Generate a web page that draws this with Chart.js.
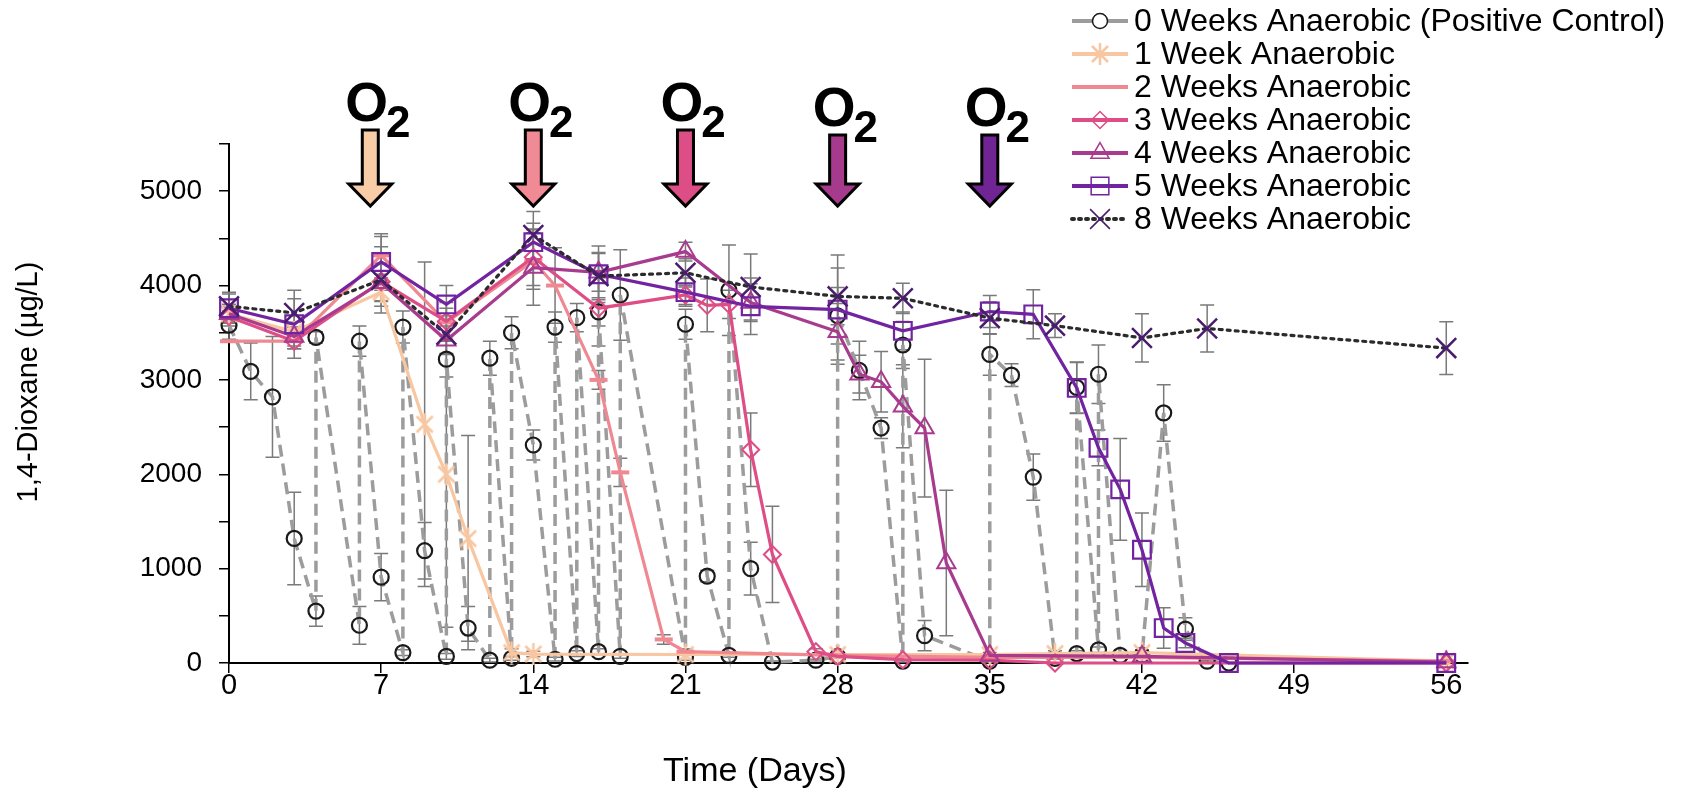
<!DOCTYPE html>
<html>
<head>
    <title>1,4-Dioxane</title>
    <script src="https://cdn.jsdelivr.net/npm/chart.js"></script>
    <style>
        body { margin: 0; background: #fff; }
        canvas { display: block; }
    </style>
</head>
<body>
    <canvas id="chart" width="1686" height="797"></canvas>
    <script>
        // data (days, µg/L, error)
        const days0 = [0,1,2,3,4,4,6,6,7,8,8,9,10,10,11,12,12,13,13,14,15,15,16,16,17,17,18,18,21,21,22,23,23,24,25,27,28,28,29,30,31,31,32,35,35,36,37,38,39,39,40,40,41,42,43,44,45,46];
        const conc0 = [3580,3090,2820,1320,550,3450,400,3410,910,110,3560,1190,70,3220,370,30,3230,50,3500,2310,40,3560,100,3660,120,3720,70,3900,60,3590,920,80,3950,1000,10,30,70,3680,3100,2490,20,3370,290,20,3270,3050,1970,50,100,2920,140,3060,80,80,2650,360,20,0];
        const err0 = [150,300,640,490,160,60,200,160,250,30,170,300,30,190,230,20,180,20,170,160,20,160,30,150,30,150,20,480,30,160,60,20,480,280,10,10,20,300,310,110,10,250,160,10,220,120,245,10,30,270,30,310,20,20,300,120,10,0];

        const days1 = [0,3,7,9,10,11,13,14,21,28,35,38,42,56];
        const conc1 = [3700,3510,3930,2530,2000,1320,110,95,90,90,90,100,110,20];
        const err1 = [100,100,150,1720,1620,1090,40,30,0,0,0,30,30,0];

        const days2 = [0,3,7,10,14,15,17,18,20,21,28,35,42,56];
        const conc2 = [3410,3410,4320,3610,4260,4000,3000,2020,250,120,80,60,60,20];
        const err2 = [0,80,200,150,300,400,100,150,50,30,0,0,0,0];

        const days3 = [0,3,7,10,14,17,21,22,23,24,25,27,28,31,35,38,56];
        const conc3 = [3670,3410,4040,3620,4300,3760,3900,3790,3800,2260,1150,120,70,35,30,0,0];
        const err3 = [100,80,200,200,300,400,100,280,150,390,510,30,20,0,0,0,0];

        const days4 = [0,3,7,10,14,17,21,24,28,29,30,31,32,33,35,42,56];
        const conc4 = [3700,3460,4030,3420,4190,4140,4360,3820,3510,3060,2980,2720,2490,1060,80,70,10];
        const err4 = [100,100,200,150,400,200,100,200,300,200,320,440,730,770,30,0,0];

        const days5 = [0,3,7,10,14,17,21,24,28,31,35,37,39,40,41,42,43,44,46,56];
        const conc5 = [3760,3590,4250,3800,4460,4120,3930,3780,3745,3520,3725,3695,2915,2280,1840,1200,370,212,0,0];
        const err5 = [150,360,300,200,200,300,150,300,580,200,170,260,270,190,540,390,215,50,0,0];

        const days8 = [0,3,7,10,14,17,21,24,28,31,35,38,42,45,56];
        const conc8 = [3780,3710,4060,3480,4535,4100,4135,3985,3885,3865,3655,3575,3445,3545,3337];
        const err8 = [150,150,350,200,250,250,150,350,300,160,170,125,255,250,280];

        const seriesNames = ['0 Weeks Anaerobic (Positive Control)', '1 Week Anaerobic', '2 Weeks Anaerobic',
            '3 Weeks Anaerobic', '4 Weeks Anaerobic', '5 Weeks Anaerobic', '8 Weeks Anaerobic'];
        const xTicks = [0, 7, 14, 21, 28, 35, 42, 49, 56];
        const yTickMarks = [0, 500, 1000, 1500, 2000, 2500, 3000, 3500, 4000, 4500, 5000, 5500];
        const yTickLabels = [0, 1000, 2000, 3000, 4000, 5000];
        const o2Days = [6.5, 14, 21, 28, 35];
        const o2Colors = ['#f9cca8', '#f08a94', '#dc4e85', '#a63a8c', '#712595'];

        const FONT = "'Liberation Sans', Arial, sans-serif";

        function pts(xs, ys) {
            return xs.map((x, i) => ({ x: x, y: ys[i] }));
        }

        // asterisk marker (vertical bar + X)
        function asterisk(color) {
            const c = document.createElement('canvas');
            c.width = 24; c.height = 24;
            const g = c.getContext('2d');
            g.strokeStyle = color; g.lineWidth = 2.5;
            g.beginPath();
            g.moveTo(12, 1); g.lineTo(12, 23);
            g.moveTo(4, 4); g.lineTo(20, 20);
            g.moveTo(20, 4); g.lineTo(4, 20);
            g.stroke();
            return c;
        }

        const colors = ['#9c9c9c', '#f8c6a0', '#f08892', '#de4d86', '#a83b8e', '#7223a0', '#2b2b2b'];
        const markerColors = ['#1a1a1a', '#f8c6a0', '#f08892', '#de4d86', '#a83b8e', '#7223a0', '#4a1c6e'];

        const datasets = [
            { data: pts(days0, conc0), errors: err0, borderDash: [12, 7], borderWidth: 3.5, pointStyle: 'circle', pointRadius: 7.5, pointBorderWidth: 2.2 },
            { data: pts(days1, conc1), errors: err1, pointStyle: asterisk(markerColors[1]), pointRadius: 12 },
            { data: pts(days2, conc2), errors: err2, pointStyle: 'line', pointRadius: 9, pointBorderWidth: 4 },
            { data: pts(days3, conc3), errors: err3, pointStyle: 'rectRot', pointRadius: 8.5, pointBorderWidth: 2 },
            { data: pts(days4, conc4), errors: err4, pointStyle: 'triangle', pointRadius: 10.5, pointBorderWidth: 2 },
            { data: pts(days5, conc5), errors: err5, pointStyle: 'rect', pointRadius: 12.5, pointBorderWidth: 2.2 },
            { data: pts(days8, conc8), errors: err8, borderDash: [3, 5], borderCapStyle: 'round', pointStyle: 'crossRot', pointRadius: 14, pointBorderWidth: 2.5 }
        ].map((d, i) => Object.assign({
            label: seriesNames[i],
            showLine: true,
            tension: 0,
            borderColor: colors[i],
            borderWidth: 3.2,
            pointBorderColor: markerColors[i],
            pointBackgroundColor: 'rgba(0,0,0,0)',
            clip: 20,
            order: 7 - i
        }, d));

        const errorBars = {
            id: 'errorBars',
            beforeDatasetsDraw(chart) {
                const ctx = chart.ctx;
                const xs = chart.scales.x, ys = chart.scales.y;
                ctx.save();
                ctx.strokeStyle = '#7a7a7a';
                ctx.lineWidth = 1.5;
                chart.data.datasets.forEach(ds => {
                    ds.data.forEach((p, j) => {
                        const e = ds.errors[j];
                        if (!e) return;
                        const px = xs.getPixelForValue(p.x);
                        const top = ys.getPixelForValue(p.y + e);
                        const bot = ys.getPixelForValue(Math.max(0, p.y - e));
                        ctx.beginPath();
                        ctx.moveTo(px, top); ctx.lineTo(px, bot);
                        ctx.moveTo(px - 7, top); ctx.lineTo(px + 7, top);
                        if (p.y - e > 0) { ctx.moveTo(px - 7, bot); ctx.lineTo(px + 7, bot); }
                        ctx.stroke();
                    });
                });
                ctx.restore();
            }
        };

        const extras = {
            id: 'extras',
            afterDraw(chart) {
                const ctx = chart.ctx;
                const xs = chart.scales.x;
                ctx.save();

                // O2 arrows
                o2Days.forEach((d, i) => {
                    const cx = xs.getPixelForValue(d);
                    const off = i >= 3 ? 5 : 0;
                    const top = 130 + off, headY = 184, tip = 206;
                    ctx.beginPath();
                    ctx.moveTo(cx - 8, top);
                    ctx.lineTo(cx + 8, top);
                    ctx.lineTo(cx + 8, headY);
                    ctx.lineTo(cx + 21.5, headY);
                    ctx.lineTo(cx, tip);
                    ctx.lineTo(cx - 21.5, headY);
                    ctx.lineTo(cx - 8, headY);
                    ctx.closePath();
                    ctx.fillStyle = o2Colors[i];
                    ctx.fill();
                    ctx.lineWidth = 3;
                    ctx.lineJoin = 'miter';
                    ctx.strokeStyle = '#000';
                    ctx.stroke();

                    ctx.fillStyle = '#000';
                    ctx.textAlign = 'left';
                    ctx.textBaseline = 'alphabetic';
                    ctx.font = 'bold 55px ' + FONT;
                    const ox = cx - 25;
                    ctx.fillText('O', ox, 121 + off);
                    const w = ctx.measureText('O').width;
                    ctx.font = 'bold 44px ' + FONT;
                    ctx.fillText('2', ox + w - 2, 137 + off);
                });

                // legend
                ctx.font = '32px ' + FONT;
                ctx.textBaseline = 'middle';
                chart.data.datasets.forEach((ds, i) => {
                    const y = 21 + 33 * i;
                    ctx.save();
                    ctx.strokeStyle = colors[i];
                    ctx.lineWidth = 4;
                    ctx.setLineDash(i === 6 ? [2, 5] : []);
                    ctx.lineCap = i === 6 ? 'round' : 'butt';
                    ctx.beginPath();
                    ctx.moveTo(1072, y); ctx.lineTo(1128, y);
                    ctx.stroke();
                    ctx.restore();
                    ctx.save();
                    ctx.strokeStyle = markerColors[i];
                    ctx.fillStyle = i === 0 ? '#fff' : 'rgba(0,0,0,0)';
                    ctx.lineWidth = i === 2 ? 4 : 1.5;
                    Chart.helpers.drawPoint(ctx, {
                        pointStyle: ds.pointStyle,
                        radius: i === 0 ? 7.5 : ds.pointRadius,
                        borderWidth: ctx.lineWidth,
                        rotation: 0
                    }, 1100, y);
                    ctx.restore();
                    ctx.fillStyle = '#000';
                    ctx.fillText(ds.label, 1134, y + 1);
                });

                // axis titles
                ctx.textAlign = 'center';
                ctx.textBaseline = 'middle';
                ctx.font = '34px ' + FONT;
                ctx.fillText('Time (Days)', 755, 772);
                ctx.font = '29px ' + FONT;
                ctx.translate(29, 382);
                ctx.rotate(-Math.PI / 2);
                ctx.fillText('1,4-Dioxane (µg/L)', 0, 0);
                ctx.restore();
            }
        };

        new Chart(document.getElementById('chart'), {
            type: 'scatter',
            data: { datasets: datasets },
            options: {
                responsive: false,
                animation: false,
                layout: { padding: { left: 0, right: 218, top: 144, bottom: 0 } },
                plugins: { legend: { display: false }, tooltip: { enabled: false } },
                scales: {
                    x: {
                        type: 'linear',
                        min: 0,
                        max: 57,
                        afterBuildTicks: s => { s.ticks = xTicks.map(v => ({ value: v })); },
                        afterFit: s => { s.height = 134; },
                        grid: { drawOnChartArea: false, drawTicks: true, tickLength: 10, color: '#000', lineWidth: 1.5 },
                        border: { display: true, color: '#000', width: 2 },
                        ticks: { color: '#000', font: { size: 29, family: FONT }, padding: -4, maxRotation: 0, autoSkip: false, callback: v => String(v) }
                    },
                    y: {
                        min: 0,
                        max: 5500,
                        afterBuildTicks: s => { s.ticks = yTickMarks.map(v => ({ value: v })); },
                        afterFit: s => { s.width = 229; },
                        grid: { drawOnChartArea: false, drawTicks: true, tickLength: 10, color: '#000', lineWidth: 1.5 },
                        border: { display: true, color: '#000', width: 2 },
                        ticks: { color: '#000', font: { size: 28, family: FONT }, padding: 17, autoSkip: false,
                            callback: v => yTickLabels.includes(v) ? String(v) : '' }
                    }
                }
            },
            plugins: [errorBars, extras]
        });
    </script>
</body>
</html>
